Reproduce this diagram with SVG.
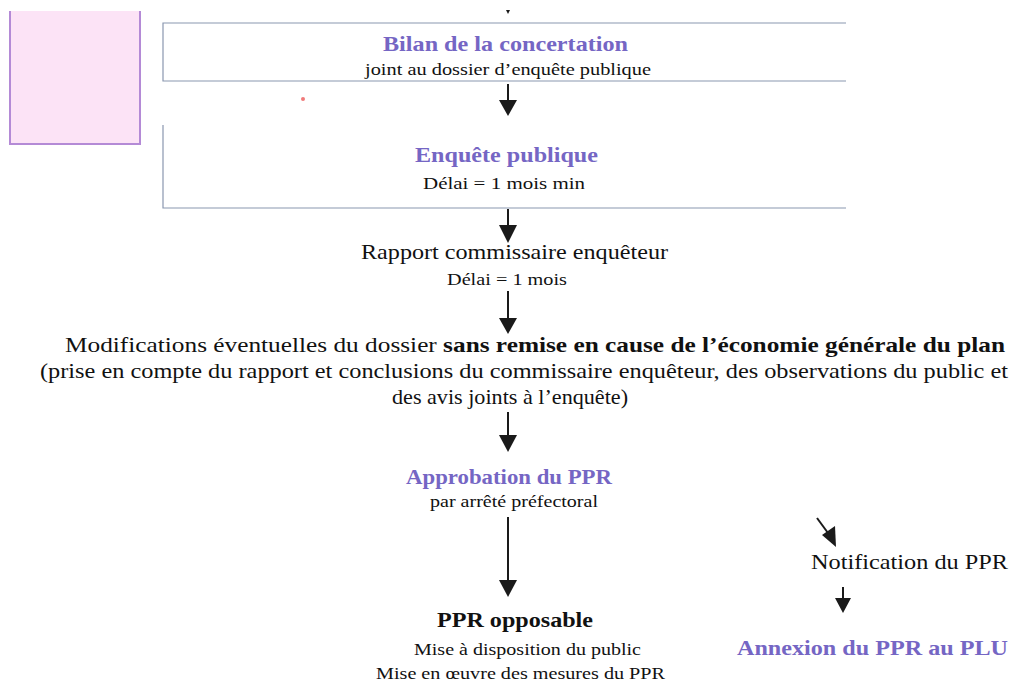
<svg xmlns="http://www.w3.org/2000/svg" width="1011" height="684" viewBox="0 0 1011 684" font-family="'Times New Roman', 'Liberation Serif', Tinos, serif">
<defs>
<marker id="ah" viewBox="0 0 10 10" refX="10" refY="5" markerWidth="8" markerHeight="8" markerUnits="userSpaceOnUse" orient="auto"><path d="M0,0 L10,5 L0,10 z" fill="#1a1a1a"/></marker>
</defs>
<style>
text{font-family:'Times New Roman','Liberation Serif',Tinos,serif;text-anchor:middle;fill:#111}
.t{font-size:21px}
.s{font-size:17px}
.b{font-weight:bold}
.p{fill:#7566c4;font-weight:bold;font-size:21px}
.frame{fill:none;stroke:#8a97b0;stroke-width:1.2}
.ln{stroke:#1a1a1a;stroke-width:2;fill:none}
.hd{fill:#1a1a1a}
</style>
<rect width="1011" height="684" fill="#ffffff"/>
<g id="pinkbox">
<rect x="10" y="11" width="130" height="133" fill="#fce3f6"/>
<path d="M10,11 V144 H140 V11" fill="none" stroke="#b48ad6" stroke-width="2"/>
</g>
<circle cx="303" cy="99" r="2" fill="#f07a7a"/>
<g id="bilan">
<path class="frame" d="M846,23 H163 V81 H846"/>
<text class="p" x="505.5" y="51" textLength="245" lengthAdjust="spacingAndGlyphs">Bilan de la concertation</text>
<text class="s" x="508" y="75" textLength="286" lengthAdjust="spacingAndGlyphs">joint au dossier d’enquête publique</text>
</g>
<g id="enquete">
<path class="frame" d="M163,125 V208 H846"/>
<text class="p" x="506.5" y="162" textLength="183" lengthAdjust="spacingAndGlyphs">Enquête publique</text>
<text class="s" x="504" y="189" textLength="162" lengthAdjust="spacingAndGlyphs">Délai = 1 mois min</text>
</g>
<g id="rapport">
<text class="t" x="514.5" y="259" textLength="307" lengthAdjust="spacingAndGlyphs">Rapport commissaire enquêteur</text>
<text class="s" x="507" y="285" textLength="120" lengthAdjust="spacingAndGlyphs">Délai = 1 mois</text>
</g>
<g id="modifications">
<text class="t" x="535" y="352" textLength="940" lengthAdjust="spacingAndGlyphs">Modifications éventuelles du dossier <tspan class="b">sans remise en cause de l’économie générale du plan</tspan></text>
<text class="t" x="524" y="378" textLength="968" lengthAdjust="spacingAndGlyphs">(prise en compte du rapport et conclusions du commissaire enquêteur, des observations du public et</text>
<text class="t" x="510" y="404" textLength="236" lengthAdjust="spacingAndGlyphs">des avis joints à l’enquête)</text>
</g>
<g id="approbation">
<text class="p" x="509" y="484" textLength="206" lengthAdjust="spacingAndGlyphs">Approbation du PPR</text>
<text class="s" x="514" y="507" textLength="168" lengthAdjust="spacingAndGlyphs">par arrêté préfectoral</text>
</g>
<g id="opposable">
<text class="t b" x="515" y="627" textLength="156" lengthAdjust="spacingAndGlyphs">PPR opposable</text>
<text class="s" x="527.5" y="655" textLength="227" lengthAdjust="spacingAndGlyphs">Mise à disposition du public</text>
<text class="s" x="520.5" y="679" textLength="289" lengthAdjust="spacingAndGlyphs">Mise en œuvre des mesures du PPR</text>
</g>
<g id="notification">
<text class="t" x="909.5" y="569" textLength="197" lengthAdjust="spacingAndGlyphs">Notification du PPR</text>
</g>
<g id="annexion">
<text class="p" x="872.5" y="655" textLength="271" lengthAdjust="spacingAndGlyphs">Annexion du PPR au PLU</text>
</g>
<g id="connectors">
<path class="hd" d="M506,10 L510,10 L508,14 z"/>
<path class="ln" d="M508,84 V101"/>
<path class="hd" d="M499,100 L517,100 L508,116 z"/>
<path class="ln" d="M508,209 V226"/>
<path class="hd" d="M499,225 L517,225 L508,243 z"/>
<path class="ln" d="M508,291 V319"/>
<path class="hd" d="M499,318 L517,318 L508,334 z"/>
<path class="ln" d="M508,412 V436"/>
<path class="hd" d="M499,435 L517,435 L508,452 z"/>
<path class="ln" d="M508,517 V581"/>
<path class="hd" d="M499,580 L517,580 L508,597 z"/>
<path class="ln" d="M817,518 L828,533"/>
<path class="hd" d="M822,535 L835,526 L836,547 z"/>
<path class="ln" d="M843,587 V599"/>
<path class="hd" d="M835,598 L851,598 L843,613 z"/>
</g>
</svg>
